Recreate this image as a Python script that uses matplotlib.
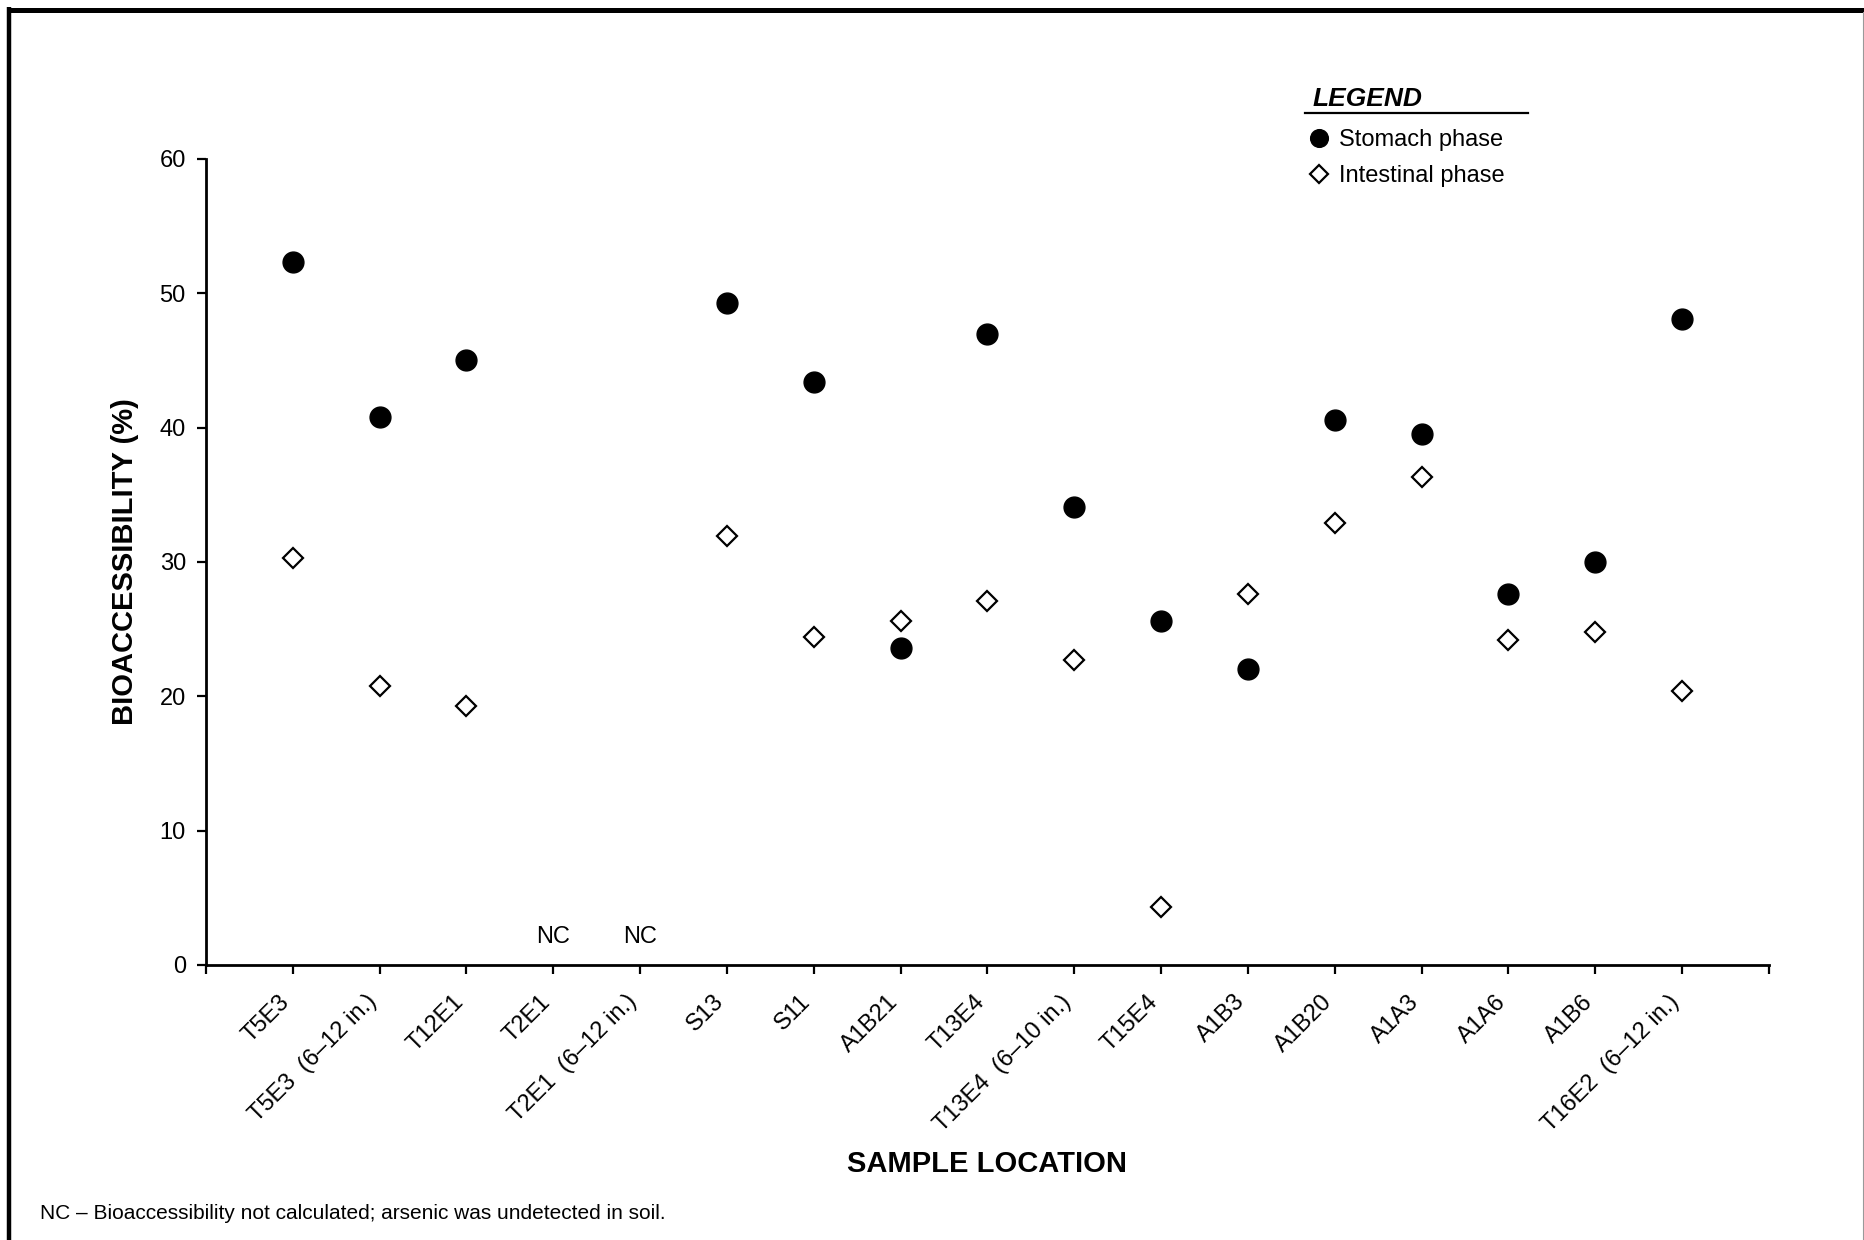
import matplotlib
matplotlib.use("Agg")
import matplotlib.pyplot as plt
import matplotlib.transforms as mtransforms
from matplotlib.lines import Line2D
import numpy as np

plt.rcParams["font.family"] = ["Liberation Sans", "DejaVu Sans"]

# sample locations, left to right
locations = ["T5E3", "T5E3  (6\u201312 in.)", "T12E1", "T2E1", "T2E1  (6\u201312 in.)",
             "S13", "S11", "A1B21", "T13E4", "T13E4  (6\u201310 in.)", "T15E4",
             "A1B3", "A1B20", "A1A3", "A1A6", "A1B6", "T16E2  (6\u201312 in.)"]

# bioaccessibility (%), NaN = not calculated
stomach = [52.3, 40.8, 45.0, np.nan, np.nan, 49.3, 43.4, 23.6, 47.0, 34.1, 25.6,
           22.0, 40.6, 39.5, 27.6, 30.0, 48.1]
intestinal = [30.3, 20.8, 19.3, np.nan, np.nan, 31.9, 24.4, 25.6, 27.1, 22.7, 4.3,
              27.6, 32.9, 36.3, 24.2, 24.8, 20.4]
nc_locations = ["T2E1", "T2E1  (6\u201312 in.)"]

yticks = [0, 10, 20, 30, 40, 50, 60]

x = np.arange(1, len(locations) + 1)

fig = plt.figure(figsize=(18.64, 12.40), dpi=100)
ax = fig.add_axes([0.1105, 0.2218, 0.8385, 0.65])

ax.plot(x, stomach, linestyle="none", marker="o", markersize=15,
        color="black", label="Stomach phase")
ax.plot(x, intestinal, linestyle="none", marker="D", markersize=10.5,
        markerfacecolor="white", markeredgecolor="black", markeredgewidth=1.6,
        label="Intestinal phase")

for name in nc_locations:
    ax.text(locations.index(name) + 1, 2.1, "NC", ha="center", va="center", fontsize=17)

ax.set_xlim(0, len(locations) + 1)
ax.set_ylim(0, 60)
ax.set_yticks(yticks)
ax.set_yticklabels([str(t) for t in yticks], fontsize=17)
ax.set_xticks(np.arange(0, len(locations) + 2))
ax.set_xticklabels([""] + locations + [""], rotation=45, ha="right",
                   rotation_mode="anchor", fontsize=17)

for side in ["top", "right"]:
    ax.spines[side].set_visible(False)
for side in ["left", "bottom"]:
    ax.spines[side].set_linewidth(2)
ax.tick_params(axis="both", direction="out", length=6.5, width=1.6, colors="black")
ax.tick_params(axis="x", pad=12)
ax.tick_params(axis="y", pad=8)

# nudge the slanted labels left so they end at their tick
shift = mtransforms.ScaledTranslation(-0.14, 0, fig.dpi_scale_trans)
for lbl in ax.xaxis.get_majorticklabels():
    lbl.set_transform(lbl.get_transform() + shift)

ax.set_ylabel("BIOACCESSIBILITY (%)", fontsize=21, fontweight="bold")
ax.yaxis.set_label_coords(-0.043, 0.5)
ax.set_xlabel("SAMPLE LOCATION", fontsize=21, fontweight="bold")
ax.xaxis.set_label_coords(0.5, -0.23)

# legend block
fig.text(0.7040, 0.9205, "LEGEND", fontsize=19, fontweight="bold", style="italic",
         va="center", ha="left")
fig.add_artist(Line2D([0.700, 0.8197], [0.9086, 0.9086], color="black", lw=1.6,
                      transform=fig.transFigure))
ax.legend(loc="upper left", bbox_to_anchor=(0.7013, 0.896), bbox_transform=fig.transFigure,
          frameon=False, fontsize=17, markerscale=0.85, handlelength=1.0,
          handletextpad=0.36, borderpad=0, borderaxespad=0, labelspacing=0.6)

fig.text(0.0215, 0.021, "NC \u2013 Bioaccessibility not calculated; arsenic was undetected in soil.",
         fontsize=15, ha="left", va="center")

# page frame
fig.add_artist(Line2D([0.0037, 1.0], [0.9923, 0.9923], color="black", lw=3.6,
                      transform=fig.transFigure, solid_capstyle="butt"))
fig.add_artist(Line2D([0.0048, 0.0048], [0.0, 0.9944], color="black", lw=3.2,
                      transform=fig.transFigure, solid_capstyle="butt"))
fig.add_artist(Line2D([0.9992, 0.9992], [0.0, 0.990], color="#999999", lw=0.8,
                      transform=fig.transFigure))

fig.savefig("out.png", dpi=100, facecolor="white")
